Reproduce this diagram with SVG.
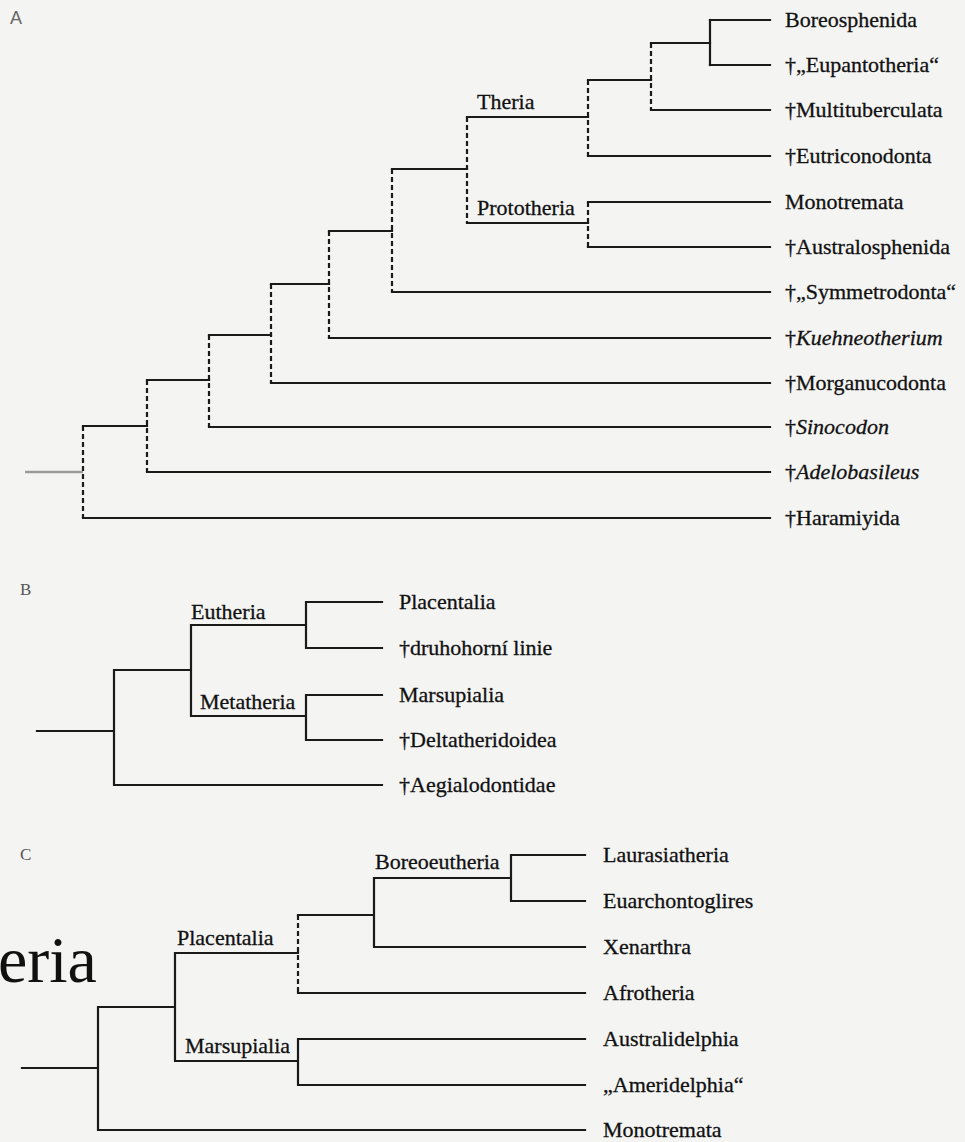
<svg xmlns="http://www.w3.org/2000/svg" width="965" height="1142" viewBox="0 0 965 1142">
<style>
.t{font-family:"Liberation Serif","Times New Roman",serif;font-size:22px;fill:#111;stroke:#111;stroke-width:0.3}
.it{font-style:italic}
.pl{font-family:"Liberation Serif","Times New Roman",serif;font-size:17px;fill:#555}
.s{fill:none;stroke:#1a1a1a;stroke-width:2.2;stroke-linecap:square}
.d{fill:none;stroke:#1a1a1a;stroke-width:2.2;stroke-dasharray:5 3}
.g{fill:none;stroke:#9a9a9a;stroke-width:2.5}
</style>
<rect width="965" height="1142" fill="#f4f4f3"/>
<text class="pl" x="10" y="24" style="font-family:'Liberation Sans',Arial,sans-serif;font-size:18px;fill:#666">A</text>
<text class="pl" x="20" y="595">B</text>
<text class="pl" x="20" y="860">C</text>
<text x="-2" y="982" style="font-family:'Liberation Serif','Times New Roman',serif;font-size:66px;fill:#111">eria</text>

<g id="connectors">
  <!-- Panel A leaves -->
  <path class="s" d="M710 20H770M710 65H770M651 110H770M588 156H770M588 202H770M588 247H770M392 292H770M329 338H770M271 383H770M209 427H770M147 472H770M83 518H770"/>
  <!-- Panel A stems -->
  <path class="s" d="M651 43H710M588 80H651M467 117H588M467 223H588M392 169H467M329 231H392M271 284H329M209 335H271M147 380H209M83 426H147"/>
  <path class="g" d="M25 472H83"/>
  <path class="s" d="M710 20V65"/>
  <path class="d" d="M651 43V110M588 80V156M588 202V247M467 117V223M392 169V292M329 231V338M271 284V383M209 335V427M147 380V472M83 426V518"/>
  <!-- Panel B -->
  <path class="s" d="M306 602H382M306 648H382M306 695H382M306 740H382M114 785H382M191 625H306M191 716H306M114 670H191M37 731H114M306 602V648M306 695V740M191 625V716M114 670V785"/>
  <!-- Panel C -->
  <path class="s" d="M511 855H585M511 901H585M374 947H585M298 993H585M298 1039H585M298 1085H585M98 1130H585M374 878H511M298 915H374M175 953H298M175 1061H298M98 1007H175M22 1068H98M511 855V901M374 878V947M298 1039V1085M175 953V1061M98 1007V1130"/>
  <path class="d" d="M298 915V993"/>
</g>

<g id="A-boreosphenida"><text class="t" x="785" y="27">Boreosphenida</text></g>
<g id="A-eupantotheria"><text class="t" x="785" y="72">†„Eupantotheria“</text></g>
<g id="A-multituberculata"><text class="t" x="785" y="117">†Multituberculata</text></g>
<g id="A-eutriconodonta"><text class="t" x="785" y="163">†Eutriconodonta</text></g>
<g id="A-monotremata"><text class="t" x="785" y="209">Monotremata</text></g>
<g id="A-australosphenida"><text class="t" x="785" y="254">†Australosphenida</text></g>
<g id="A-symmetrodonta"><text class="t" x="785" y="299">†„Symmetrodonta“</text></g>
<g id="A-kuehneotherium"><text class="t" x="785" y="345">†<tspan class="it">Kuehneotherium</tspan></text></g>
<g id="A-morganucodonta"><text class="t" x="785" y="390">†Morganucodonta</text></g>
<g id="A-sinocodon"><text class="t" x="785" y="434">†<tspan class="it">Sinocodon</tspan></text></g>
<g id="A-adelobasileus"><text class="t" x="785" y="479">†<tspan class="it">Adelobasileus</tspan></text></g>
<g id="A-haramiyida"><text class="t" x="785" y="525">†Haramiyida</text></g>
<g id="A-theria"><text class="t" x="477" y="109">Theria</text></g>
<g id="A-prototheria"><text class="t" x="477" y="215">Prototheria</text></g>

<g id="B-placentalia"><text class="t" x="399" y="609">Placentalia</text></g>
<g id="B-druhohorni"><text class="t" x="399" y="655">†druhohorní linie</text></g>
<g id="B-marsupialia"><text class="t" x="399" y="702">Marsupialia</text></g>
<g id="B-deltatheridoidea"><text class="t" x="399" y="747">†Deltatheridoidea</text></g>
<g id="B-aegialodontidae"><text class="t" x="399" y="792">†Aegialodontidae</text></g>
<g id="B-eutheria"><text class="t" x="191" y="619">Eutheria</text></g>
<g id="B-metatheria"><text class="t" x="200" y="709">Metatheria</text></g>

<g id="C-laurasiatheria"><text class="t" x="603" y="862">Laurasiatheria</text></g>
<g id="C-euarchontoglires"><text class="t" x="603" y="908">Euarchontoglires</text></g>
<g id="C-xenarthra"><text class="t" x="603" y="954">Xenarthra</text></g>
<g id="C-afrotheria"><text class="t" x="603" y="1000">Afrotheria</text></g>
<g id="C-australidelphia"><text class="t" x="603" y="1046">Australidelphia</text></g>
<g id="C-ameridelphia"><text class="t" x="603" y="1092">„Ameridelphia“</text></g>
<g id="C-monotremata"><text class="t" x="603" y="1137">Monotremata</text></g>
<g id="C-boreoeutheria"><text class="t" x="375" y="869">Boreoeutheria</text></g>
<g id="C-placentalia"><text class="t" x="177" y="945">Placentalia</text></g>
<g id="C-marsupialia"><text class="t" x="185" y="1053">Marsupialia</text></g>
</svg>
